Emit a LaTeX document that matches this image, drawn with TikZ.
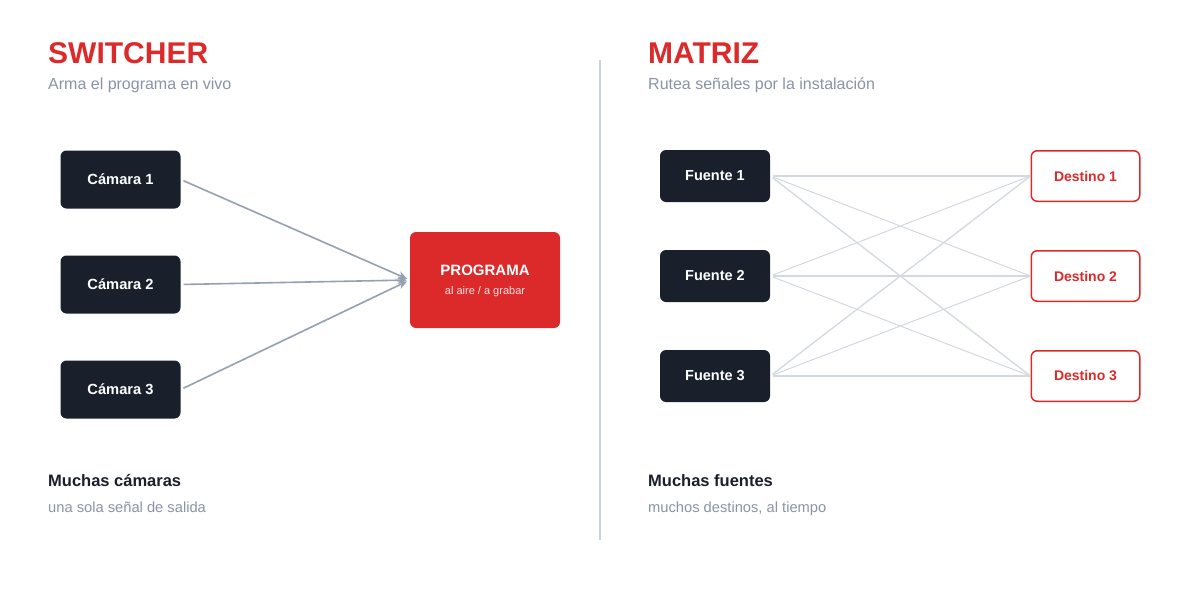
\documentclass[tikz,border=0pt]{standalone}
\usepackage{fontspec}
\setmainfont{Liberation Sans}
\usetikzlibrary{arrows.meta}
\definecolor{dark}{HTML}{19202B}
\definecolor{accent}{HTML}{DC2A2A}
\definecolor{subgray}{HTML}{8A94A6}
\definecolor{arrowgray}{HTML}{95A1B1}
\definecolor{linegray}{HTML}{D3D9E1}
\definecolor{divgray}{HTML}{CBD3DD}
\definecolor{pinkw}{HTML}{FBE3E3}
\tikzset{
  cam/.style={rectangle, rounded corners=6pt, fill=dark, minimum width=120pt, minimum height=58pt, inner sep=0pt, text=white, font=\fontsize{14.7}{17}\selectfont\bfseries},
  src/.style={rectangle, rounded corners=6pt, fill=dark, minimum width=110pt, minimum height=52pt, inner sep=0pt, text=white, font=\fontsize{14.5}{17}\selectfont\bfseries},
  dst/.style={rectangle, rounded corners=6pt, fill=white, draw=accent, line width=1.5pt, minimum width=108.5pt, minimum height=50.5pt, inner sep=0pt, text=accent, font=\fontsize{14}{16}\selectfont\bfseries},
  prog/.style={rectangle, rounded corners=6pt, fill=accent, minimum width=150pt, minimum height=96pt, inner sep=0pt},
  title/.style={anchor=base west, inner sep=0pt, text=accent, font=\fontsize{30}{34}\selectfont\bfseries},
  subt/.style={anchor=base west, inner sep=0pt, text=subgray, font=\fontsize{16}{19}\selectfont},
  foot/.style={anchor=base west, inner sep=0pt, text=dark, font=\fontsize{16.5}{19}\selectfont\bfseries},
  footsub/.style={anchor=base west, inner sep=0pt, text=subgray, font=\fontsize{14.7}{17}\selectfont},
  feed/.style={draw=arrowgray, line width=1.6pt, shorten <=3pt, shorten >=3pt, -{Stealth[length=9pt,width=8pt]}},
  route/.style={draw=linegray, line width=1.3pt, shorten <=3pt, shorten >=1pt},
  routethin/.style={draw=linegray, line width=1.0pt, shorten <=3pt, shorten >=1pt},
}
\begin{document}
\begin{tikzpicture}[x=1pt,y=-1pt]
\useasboundingbox[fill=white] (0,0) rectangle (1200,600);
% divider
\coordinate (dtop) at (600,60);
\coordinate (dbot) at (600,540);
\draw[divgray, line width=1.5pt] (dtop) -- (dbot);
% left panel
\node[title] (t1) at (48,63) {SWITCHER};
\node[subt] (s1) at (48,89.5) {Arma el programa en vivo};
\node[cam] (c1) at (120.5,179.5) {Cámara 1};
\node[cam] (c2) at (120.5,284.5) {Cámara 2};
\node[cam] (c3) at (120.5,389.5) {Cámara 3};
\node[prog] (p) at (485,280) {};
\node[inner sep=0pt, text=white, font=\fontsize{15}{18}\selectfont\bfseries] (pt) at (485,270) {PROGRAMA};
\node[inner sep=0pt, text=pinkw, font=\fontsize{11}{13}\selectfont] (ps) at (485,291.5) {al aire / a grabar};
\draw[feed] (c1.east) -- (p.west);
\draw[feed] (c2.east) -- (p.west);
\draw[feed] (c3.east) -- (p.west);
\node[foot] (f1) at (48,486.5) {Muchas cámaras};
\node[footsub] (fs1) at (48,512.5) {una sola señal de salida};
% right panel
\node[title] (t2) at (648,63) {MATRIZ};
\node[subt] (s2) at (648,89.5) {Rutea señales por la instalación};
\node[src] (a1) at (715,176) {Fuente 1};
\node[src] (a2) at (715,276) {Fuente 2};
\node[src] (a3) at (715,376) {Fuente 3};
\node[dst] (b1) at (1085.5,176) {Destino 1};
\node[dst] (b2) at (1085.5,276) {Destino 2};
\node[dst] (b3) at (1085.5,376) {Destino 3};
\draw[route] (a1.east) -- (b1.west);
\draw[route] (a2.east) -- (b2.west);
\draw[route] (a3.east) -- (b3.west);
\draw[route] (a1.east) -- (b3.west);
\draw[route] (a3.east) -- (b1.west);
\draw[routethin] (a1.east) -- (b2.west);
\draw[routethin] (a2.east) -- (b1.west);
\draw[routethin] (a2.east) -- (b3.west);
\draw[routethin] (a3.east) -- (b2.west);
\node[foot] (f2) at (648,486.5) {Muchas fuentes};
\node[footsub] (fs2) at (648,512.5) {muchos destinos, al tiempo};
\end{tikzpicture}
\end{document}
